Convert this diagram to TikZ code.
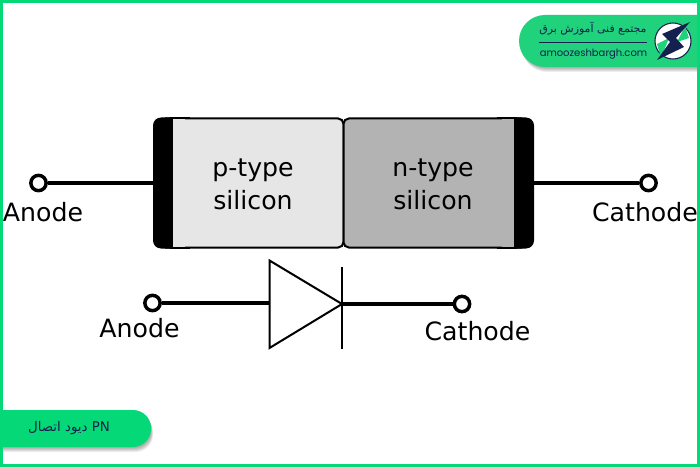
\documentclass[tikz,border=0pt]{standalone}
\usepackage{fontspec}
\setmainfont{DejaVu Sans}
\newfontfamily\arabicfont[Script=Arabic]{DejaVu Sans}
\newfontfamily\latinlogo{Poppins}
\TeXXeTstate=1
\definecolor{brandgreen}{HTML}{05D977}
\definecolor{logogreen}{HTML}{20D27C}
\definecolor{navy}{HTML}{14204F}
\definecolor{ptype}{HTML}{E6E6E6}
\definecolor{ntype}{HTML}{B3B3B3}
\tikzset{
  wire/.style={line width=3pt,draw=black},
  terminal/.style={circle,draw=black,line width=2.6pt,fill=white,minimum size=11.5pt,inner sep=0pt},
  thin edge/.style={line width=1.5pt,draw=black},
  caption/.style={font=\fontsize{18.9pt}{23pt}\selectfont,text=black,align=center,inner sep=0pt},
  shade layer/.style={fill=black,opacity=0.07},
}
\begin{document}
\begin{tikzpicture}[x=0.75pt,y=-0.75pt]
\useasboundingbox (0,0) rectangle (700,467);
\fill[white] (0,0) rectangle (700,467);
% block
\filldraw[fill=ptype,thin edge,rounded corners=4pt] (165,118.5) -- (343.5,118.5) -- (343.5,247.5) -- (165,247.5);
\filldraw[fill=ntype,thin edge,rounded corners=4pt] (522,118.5) -- (343.5,118.5) -- (343.5,247.5) -- (522,247.5);
\fill[black,rounded corners=6pt] (153,117.5) -- (153,248.5) -- (180,248.5) -- (180,117.5) -- cycle;
\fill[black,rounded corners=6pt] (534,117.5) -- (534,248.5) -- (507,248.5) -- (507,117.5) -- cycle;
\fill[ptype] (173,119.5) rectangle (185,246.5);
\fill[ntype] (514,119.5) rectangle (502,246.5);
\draw[thin edge] (170,118.5) -- (190,118.5) (170,247.5) -- (190,247.5);
\draw[thin edge] (517,118.5) -- (497,118.5) (517,247.5) -- (497,247.5);
\node[caption] (p) at (253,184) {p-type\\[1.5pt]silicon};
\node[caption] (n) at (433,184) {n-type\\[1.5pt]silicon};
\coordinate (blockL) at (153,183);
\coordinate (blockR) at (534,183);
\node[terminal] (t1) at (38.5,183) {};
\node[terminal] (t2) at (648.5,183) {};
\draw[wire] (t1) -- (blockL);
\draw[wire] (blockR) -- (t2);
\node[caption] (a1) at (43,212) {Anode};
\node[caption] (c1) at (645,212) {Cathode};
% diode symbol
\coordinate (triTop) at (269.5,260.5);
\coordinate (triBot) at (269.5,348);
\coordinate (tip) at (342,304);
\draw[thin edge,line join=miter] (triTop) -- (tip) -- (triBot) -- cycle;
\coordinate (barT) at (341.5,267);
\coordinate (barB) at (341.5,349);
\draw[thin edge] (barT) -- (barB);
\node[terminal] (t3) at (152.5,303) {};
\node[terminal] (t4) at (462,304) {};
\draw[wire] (t3) -- (triTop |- t3);
\draw[wire] (tip) -- (t4);
\node[caption] (a2) at (139.5,328) {Anode};
\node[caption] (c2) at (477.5,331.5) {Cathode};
% logo banner
\foreach \d in {1,2,3,4,5}{
  \fill[shade layer,rounded corners=19.5pt] (520+\d*0.3,15+\d) rectangle (760,67+\d);
}
\fill[logogreen,rounded corners=19.5pt] (519,15) rectangle (760,67);
\node[font=\arabicfont\fontsize{8.2pt}{10pt}\selectfont,text=navy,inner sep=0pt] (lt) at (593,28.5) {\beginR مجتمع فنی آموزش برق\endR};
\coordinate (rl) at (539,42.5);
\coordinate (rr) at (647,42.5);
\draw[navy,line width=0.7pt] (rl) -- (rr);
\node[font=\latinlogo\fontsize{7.5pt}{9pt}\selectfont,text=navy,inner sep=0pt] (lu) at (593.5,54.5) {amoozeshbargh.com};
\fill[white] (673,41) circle[radius=18];
\draw[navy,line width=0.8pt] (673,41) circle[radius=18];
\fill[logogreen] (657,44) -- (669,38) -- (661,58) -- cycle;
\fill[logogreen] (677,42) -- (689,38) -- (685,26) -- cycle;
\fill[navy] (690,22) -- (662,34) -- (670,42) -- (657,60) -- (684,47) -- (676,38) -- cycle;
% title banner
\foreach \d in {1,2,3,4,5}{
  \fill[shade layer,rounded corners=13pt] (-30,410+\d) rectangle (151+\d*0.4,447+\d);
}
\fill[brandgreen,rounded corners=13.5pt] (-30,410) rectangle (151,447);
\node[font=\arabicfont\fontsize{10pt}{12pt}\selectfont,text=navy,inner sep=0pt] (tt) at (69,428) {\beginR\beginL PN\endL{} دیود اتصال\endR};
% frame on top
\draw[brandgreen,line width=2.25pt] (1.5,1.5) rectangle (698.5,465.5);
\end{tikzpicture}
\end{document}
